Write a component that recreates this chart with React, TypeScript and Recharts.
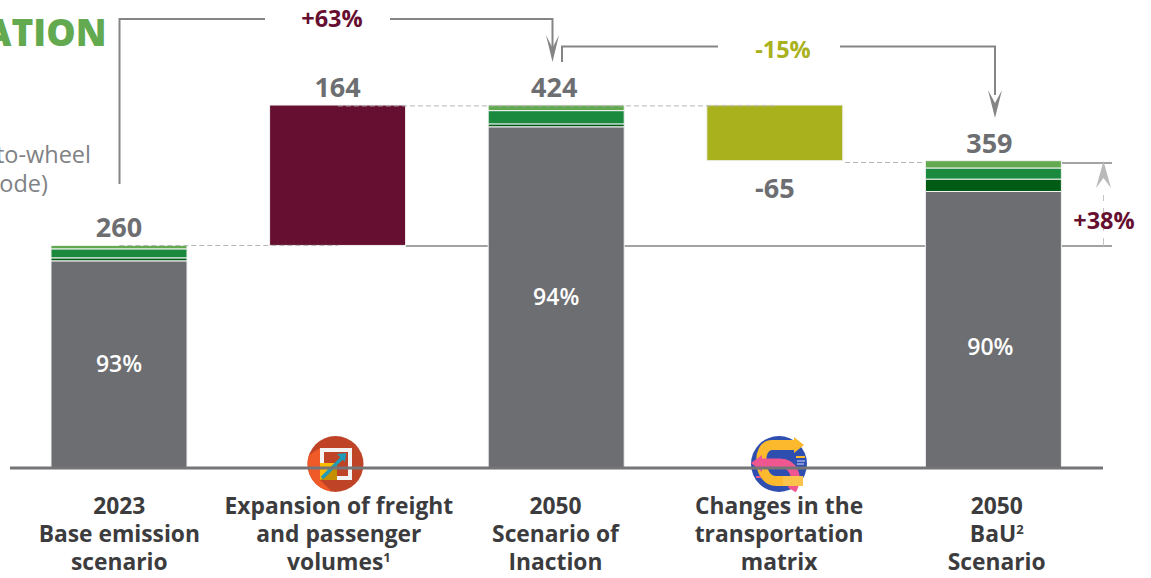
import { Bar, BarChart, LabelList, ReferenceLine, XAxis, YAxis } from "recharts";

const categories = [
  "2023\nBase emission\nscenario",
  "Expansion of freight\nand passenger\nvolumes¹",
  "2050\nScenario of\nInaction",
  "Changes in the\ntransportation\nmatrix",
  "2050\nBaU²\nScenario",
];

const hiddenBase = [0, 260, 0, 359, 0];
const grayValues = [242, 0, 398.6, 0, 323];
const darkGreenValues = [3.5, 0, 3.4, 0, 14.5];
const midGreenValues = [10.5, 0, 15.5, 0, 13];
const lightGreenValues = [4, 0, 6.5, 0, 8.5];
const increaseValues = [0, 164, 0, 0, 0];
const decreaseValues = [0, 0, 0, 65, 0];
const totalLabels = ["260", "164", "424", "-65", "359"];
const shareLabels = ["93%", "", "94%", "", "90%"];

// the original labels are hand placed, not centred
const tickNudge = [0, 1, -1, 4, 3];
const totalNudge = [0, -2, -4, -1, 2];
const shareNudgeX = [0, 0, -3, 0, 1];
const shareNudgeY = [0, 0, 17, 0, -16];

const chartData = categories.map((name, i) => ({
  name,
  base: hiddenBase[i],
  gray: grayValues[i],
  dark: darkGreenValues[i],
  mid: midGreenValues[i],
  light: lightGreenValues[i],
  up: increaseValues[i],
  down: decreaseValues[i],
  total: totalLabels[i],
  share: shareLabels[i],
}));

const FONT = "'Open Sans', sans-serif";
const GRAY = "#6d6e71";
const MAROON = "#660f30";
const OLIVE = "#a9b11d";
const LIGHT_GREEN = "#62a94f";
const MID_GREEN = "#1b8a3e";
const DARK_GREEN = "#005c15";
const LINE = "#858585";
const EDGE = "#f2f2f2";

const SUPS: Record<string, string> = { "¹": "1", "²": "2" };

const CategoryTick = (props: any) => {
  const { x, payload, index } = props;
  const cx = x + tickNudge[index];
  return (
    <text textAnchor="middle" fontFamily={FONT} fontWeight={700} fontSize={22.8} fill="#3c3c3e">
      {String(payload.value)
        .split("\n")
        .map((line: string, i: number) => {
          const sup = line.slice(-1);
          const hasSup = sup in SUPS;
          return (
            <tspan key={i} x={cx} y={514 + i * 28}>
              {hasSup ? line.slice(0, -1) : line}
              {hasSup && (
                <tspan fontSize={13} dy={-8}>
                  {SUPS[sup]}
                </tspan>
              )}
            </tspan>
          );
        })}
    </text>
  );
};

const TotalLabel = (props: any) => {
  const { x, y, width, value, index } = props;
  if (!value) return null;
  return (
    <text x={x + width / 2 + totalNudge[index]} y={y - 8} textAnchor="middle" fontFamily={FONT} fontWeight={700} fontSize={27} fill={GRAY}>
      {value}
    </text>
  );
};

const DropLabel = (props: any) => {
  const { x, y, width, height, value, index } = props;
  if (!value) return null;
  return (
    <text x={x + width / 2 + totalNudge[index]} y={y + height + 37} textAnchor="middle" fontFamily={FONT} fontWeight={700} fontSize={27} fill={GRAY}>
      {value}
    </text>
  );
};

const ShareLabel = (props: any) => {
  const { x, y, width, height, value, index } = props;
  if (!value) return null;
  return (
    <text
      x={x + width / 2 + shareNudgeX[index]}
      y={y + height / 2 + 8 + shareNudgeY[index]}
      textAnchor="middle"
      fontFamily={FONT}
      fontWeight={600}
      fontSize={23}
      fill="#fff"
    >
      {value}
    </text>
  );
};

// brackets, arrows, cropped heading and the two round icons
const Annotations = () => (
  <g fontFamily={FONT}>
    <text x={106.5} y={46} textAnchor="end" fontWeight={800} fontSize={37} fill={LIGHT_GREEN}>ATION</text>
    <text x={91} y={163} textAnchor="end" fontSize={23.5} fill="#808285">to-wheel</text>
    <text x={48} y={192} textAnchor="end" fontSize={23.5} fill="#808285">ode)</text>

    <g fill="none" stroke={LINE} strokeWidth={2}>
      <path d="M119.5 184V19H265" />
      <path d="M390 19H552.5V50" />
      <path d="M562 62V46.5H718" />
      <path d="M840 46.5H995V95" />
      <path d="M406 246H1112" strokeWidth={1.5} />
      <path d="M1062 163H1112" strokeWidth={1.5} />
    </g>
    <path d="M845 162.5H926" fill="none" stroke="#b5b5b5" strokeDasharray="5 3" />
    <path d="M546 35L552.5 48L559 35L552.5 62Z" fill={LINE} />
    <path d="M988 90L995 103L1002 90L995 118Z" fill={LINE} />
    <path d="M1103.5 246V195" stroke="#c4c4c4" strokeWidth={1} strokeDasharray="8 7" fill="none" />
    <path d="M1103.5 161L1096 188L1103.5 178L1111 188Z" fill="#b9b9b9" />

    <text x={332} y={27} textAnchor="middle" fontWeight={700} fontSize={23.5} fill={MAROON}>+63%</text>
    <text x={783} y={58} textAnchor="middle" fontWeight={700} fontSize={23.5} fill={OLIVE}>-15%</text>
    <text x={1104} y={229} textAnchor="middle" fontWeight={700} fontSize={23.5} fill={MAROON}>+38%</text>

    <circle cx={335.5} cy={464} r={28} fill="#bf4326" />
    <path d="M320 448L320 480L332 491.8A28 28 0 0 1 309 455Z" fill="#f05a28" />
    <rect x={322} y={450} width={28} height={28} fill="none" stroke="#f3f3f3" strokeWidth={4} />
    <rect x={320} y={463} width={17} height={17} fill="#f9bc00" />
    <path d="M337 463V480H320Z" fill="#c49000" />
    <path d="M322 478L345 455" stroke="#1f9bb5" strokeWidth={3.5} />
    <path d="M337 454L346 453L345 462Z" fill="#1f9bb5" />

    <circle cx={779} cy={464} r={28} fill="#2f4fb0" />
    <path d="M794 445H772C756 445 758 481 776 481H803" fill="none" stroke="#fdb92e" strokeWidth={10} />
    <path d="M794 437L804 445L794 453Z" fill="#fdb92e" />
    <path d="M760 463H780C792 463 800 476 792 490" fill="none" stroke="#f0568f" strokeWidth={9} />
    <path d="M751 463L762 455V472Z" fill="#f0568f" />
    <path d="M783 481H803" stroke="#fcc34a" strokeWidth={10} />
    <path d="M796 457H805" stroke="#fdb92e" strokeWidth={2} />
    <path d="M797 461H805M797 464H804" stroke="#9fb0e6" strokeWidth={1.5} />
    <path d="M756 477H761" stroke="#f0568f" strokeWidth={2} />
  </g>
);

export default function App() {
  return (
    <div style={{ position: "absolute", left: 0, top: 0 }}>
      <BarChart
        width={1151}
        height={578}
        data={chartData}
        margin={{ top: 40, right: 48, bottom: 0, left: 10 }}
        barCategoryGap={0}
      >
        <YAxis hide domain={[0, 500]} />
        <XAxis
          dataKey="name"
          axisLine={{ stroke: "#757578", strokeWidth: 3 }}
          tickLine={false}
          interval={0}
          height={110}
          tick={<CategoryTick />}
        />
        <ReferenceLine
          segment={[{ x: categories[0], y: 260 }, { x: categories[1], y: 260 }]}
          stroke="#b5b5b5"
          strokeDasharray="5 3"
        />
        <ReferenceLine
          segment={[{ x: categories[1], y: 423 }, { x: categories[3], y: 423 }]}
          stroke="#b5b5b5"
          strokeDasharray="5 3"
        />
        <Bar dataKey="base" stackId="a" fill="none" barSize={136} isAnimationActive={false} />
        <Bar dataKey="gray" stackId="a" fill={GRAY} stroke={EDGE} barSize={136} isAnimationActive={false}>
          <LabelList dataKey="share" content={<ShareLabel />} />
        </Bar>
        <Bar dataKey="dark" stackId="a" fill={DARK_GREEN} stroke={EDGE} barSize={136} isAnimationActive={false} />
        <Bar dataKey="mid" stackId="a" fill={MID_GREEN} stroke={EDGE} barSize={136} isAnimationActive={false} />
        <Bar dataKey="light" stackId="a" fill={LIGHT_GREEN} stroke={EDGE} barSize={136} isAnimationActive={false}>
          <LabelList dataKey="total" content={<TotalLabel />} />
        </Bar>
        <Bar dataKey="up" stackId="a" fill={MAROON} stroke={EDGE} barSize={136} isAnimationActive={false}>
          <LabelList dataKey="up" content={(p: any) => (p.value ? <TotalLabel {...p} value={totalLabels[1]} /> : null)} />
        </Bar>
        <Bar dataKey="down" stackId="a" fill={OLIVE} stroke={EDGE} barSize={136} isAnimationActive={false}>
          <LabelList dataKey="down" content={(p: any) => (p.value ? <DropLabel {...p} value={totalLabels[3]} /> : null)} />
        </Bar>
        <Annotations />
      </BarChart>
    </div>
  );
}
